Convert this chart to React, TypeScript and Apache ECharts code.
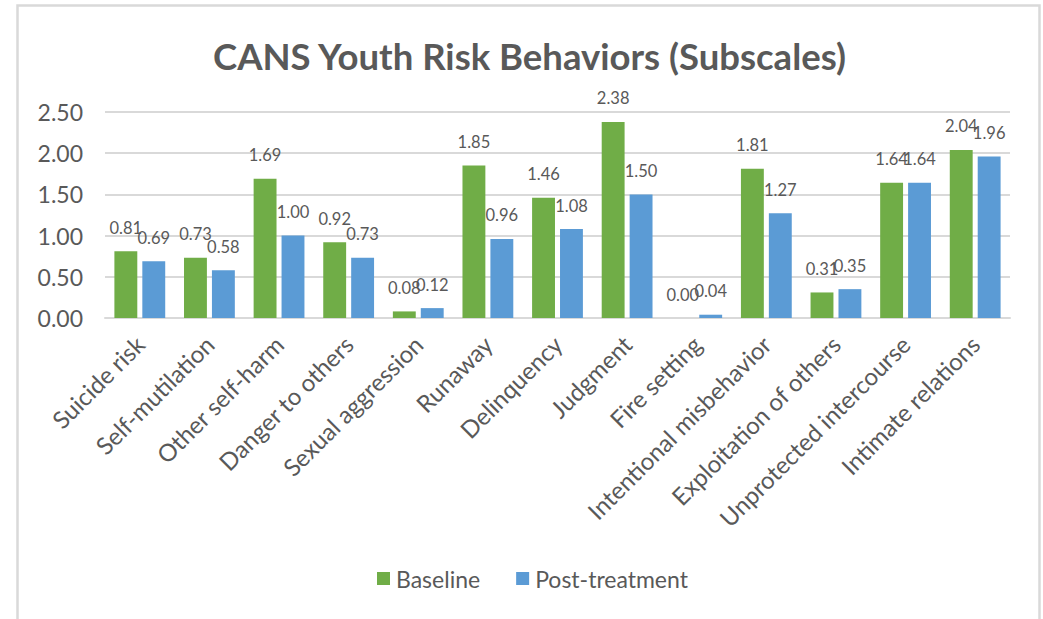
import React, { useEffect, useRef } from "react";
import * as echarts from "echarts";

const categories = [
  "Suicide risk",
  "Self-mutilation",
  "Other self-harm",
  "Danger to others",
  "Sexual aggression",
  "Runaway",
  "Delinquency",
  "Judgment",
  "Fire setting",
  "Intentional misbehavior",
  "Exploitation of others",
  "Unprotected intercourse",
  "Intimate relations",
];
const baseline = [0.81, 0.73, 1.69, 0.92, 0.08, 1.85, 1.46, 2.38, 0.0, 1.81, 0.31, 1.64, 2.04];
const postTreatment = [0.69, 0.58, 1.0, 0.73, 0.12, 0.96, 1.08, 1.5, 0.04, 1.27, 0.35, 1.64, 1.96];
const yTicks = { min: 0, max: 2.5, interval: 0.5 };

const FONT = "Lato";
const TEXT = "#595959";

export default function App() {
  const ref = useRef<HTMLDivElement>(null);
  useEffect(() => {
    document.body.style.margin = "0";
    const chart = echarts.init(ref.current!, null, { renderer: "svg" });
    const label = {
      show: true,
      position: "top",
      distance: 15,
      fontSize: 16.5,
      fontFamily: FONT,
      color: TEXT,
      formatter: (p: any) => Number(p.value).toFixed(2),
    };
    chart.setOption({
      animation: false,
      backgroundColor: "#ffffff",
      title: {
        text: "CANS Youth Risk Behaviors (Subscales)",
        left: 208,
        top: 32,
        textStyle: { fontFamily: FONT, fontSize: 36.5, fontWeight: "bold", color: TEXT },
      },
      legend: {
        bottom: 24,
        left: 372,
        itemWidth: 13,
        itemHeight: 13,
        itemGap: 36,
        icon: "rect",
        textStyle: { fontFamily: FONT, fontSize: 23, color: TEXT, padding: [0, 0, 0, 1] },
        data: ["Baseline", "Post-treatment"],
      },
      grid: { left: 105, right: 33, top: 112, bottom: 301, containLabel: false },
      xAxis: {
        type: "category",
        data: categories,
        axisLine: { lineStyle: { color: "#d9d9d9", width: 2 } },
        axisTick: { show: false },
        axisLabel: {
          interval: 0,
          rotate: 45,
          fontFamily: FONT,
          fontSize: 24,
          color: TEXT,
          margin: 22,
        },
      },
      yAxis: {
        type: "value",
        min: yTicks.min,
        max: yTicks.max,
        interval: yTicks.interval,
        axisLine: { show: false },
        axisTick: { show: false },
        splitLine: { lineStyle: { color: "#d9d9d9", width: 2 } },
        axisLabel: {
          fontFamily: FONT,
          fontSize: 23,
          color: TEXT,
          margin: 22,
          formatter: (v: number) => v.toFixed(2),
        },
      },
      series: [
        {
          name: "Baseline",
          type: "bar",
          data: baseline,
          itemStyle: { color: "#70ad47" },
          barGap: "22%",
          barCategoryGap: "27%",
          label,
        },
        {
          name: "Post-treatment",
          type: "bar",
          data: postTreatment,
          itemStyle: { color: "#5b9bd5" },
          label,
        },
      ],
      graphic: [
        {
          type: "rect",
          shape: { x: 17.5, y: 5.5, width: 1022, height: 700 },
          style: { fill: "none", stroke: "#d9d9d9", lineWidth: 2.5 },
          silent: true,
        },
      ],
    });
    return () => chart.dispose();
  }, []);
  return <div ref={ref} style={{ width: 1043, height: 619 }} />;
}
